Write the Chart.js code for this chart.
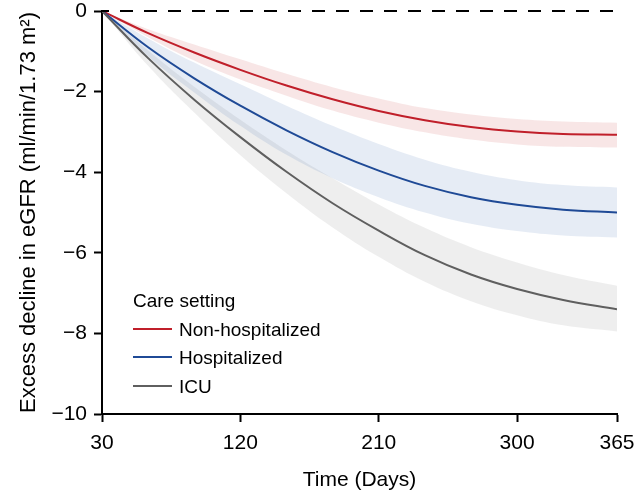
<!DOCTYPE html>
<html>
<head>
<meta charset="utf-8">
<script src="https://cdn.jsdelivr.net/npm/chart.js@4.4.1/dist/chart.umd.min.js"></script>
<style>
  html, body { margin: 0; padding: 0; background: #ffffff; }
  #wrap { width: 637px; height: 500px; position: relative; }
</style>
</head>
<body>
<div id="wrap"><canvas id="c" width="637" height="500"></canvas></div>
<script>
// ---- Data ----
const days = [30, 60, 90, 120, 150, 180, 210, 240, 270, 300, 330, 365];

const nonHospMean = [0, -0.55, -1.03, -1.46, -1.85, -2.19, -2.48, -2.71, -2.88, -2.99, -3.05, -3.07];
const nonHospUpper = [0, -0.45, -0.83, -1.20, -1.56, -1.89, -2.17, -2.41, -2.57, -2.68, -2.74, -2.77];
const nonHospLower = [0, -0.65, -1.23, -1.70, -2.10, -2.47, -2.77, -3.01, -3.19, -3.31, -3.37, -3.39];

const hospMean = [0, -0.90, -1.67, -2.35, -2.96, -3.50, -3.96, -4.34, -4.62, -4.81, -4.93, -5.00];
const hospUpper = [0, -0.68, -1.28, -1.82, -2.35, -2.85, -3.30, -3.69, -3.99, -4.20, -4.32, -4.38];
const hospLower = [0, -1.12, -2.02, -2.85, -3.57, -4.15, -4.62, -5.00, -5.28, -5.46, -5.57, -5.62];

const icuMean = [0, -1.17, -2.20, -3.13, -3.99, -4.77, -5.45, -6.06, -6.54, -6.90, -7.17, -7.40];
const icuUpper = [0, -0.98, -1.88, -2.70, -3.46, -4.15, -4.80, -5.38, -5.86, -6.24, -6.55, -6.82];
const icuLower = [0, -1.36, -2.52, -3.58, -4.52, -5.37, -6.10, -6.72, -7.20, -7.55, -7.80, -7.95];

const referenceDays = [30, 365];
const referenceValues = [0, 0];

const seriesNames = ['Non-hospitalized', 'Hospitalized', 'ICU'];
const legendTitle = 'Care setting';
const xTickValues = [30, 120, 210, 300, 365];
const yTickValues = [0, -2, -4, -6, -8, -10];
const xTitle = 'Time (Days)';
const yTitle = 'Excess decline in eGFR (ml/min/1.73 m\u00B2)';

// ---- Styles ----
const lineColors = ['#c01f2a', '#1f4a96', '#5f5f5f'];
const bandColors = ['rgba(200,60,60,0.13)', 'rgba(30,80,160,0.11)', 'rgba(90,90,90,0.10)'];
const FONT = "'Liberation Sans', Arial, Helvetica, sans-serif";

const pts = (xs, ys) => xs.map((x, i) => ({ x: x, y: ys[i] }));

const means = [nonHospMean, hospMean, icuMean];
const uppers = [nonHospUpper, hospUpper, icuUpper];
const lowers = [nonHospLower, hospLower, icuLower];

const datasets = [];
for (let i = 0; i < 3; i++) {
  datasets.push({
    label: seriesNames[i] + ' upper',
    data: pts(days, uppers[i]),
    borderWidth: 0, pointRadius: 0,
    backgroundColor: bandColors[i],
    fill: datasets.length + 1,
    tension: 0.4,
    order: 10
  });
  datasets.push({
    label: seriesNames[i] + ' lower',
    data: pts(days, lowers[i]),
    borderWidth: 0, pointRadius: 0,
    backgroundColor: 'rgba(0,0,0,0)',
    fill: false,
    tension: 0.4,
    order: 10
  });
}
for (let i = 0; i < 3; i++) {
  datasets.push({
    label: seriesNames[i],
    isLegend: true,
    data: pts(days, means[i]),
    borderColor: lineColors[i],
    borderWidth: 2,
    pointRadius: 0,
    fill: false,
    tension: 0.4,
    order: 3 - i
  });
}
datasets.push({
  label: 'reference',
  data: pts(referenceDays, referenceValues),
  borderColor: '#000',
  borderWidth: 2,
  borderDash: [13, 11],
  borderDashOffset: 6,
  pointRadius: 0,
  fill: false,
  clip: false,
  order: 0
});

const legendPlugin = {
  id: 'insideLegend',
  afterDatasetsDraw(chart) {
    const ctx = chart.ctx;
    ctx.save();
    ctx.font = '19px ' + FONT;
    ctx.fillStyle = '#000';
    ctx.textAlign = 'left';
    ctx.textBaseline = 'alphabetic';
    ctx.fillText(legendTitle, 133, 307);
    const items = chart.data.datasets.filter(d => d.isLegend);
    const rowY = [329, 357, 386];
    items.forEach((d, i) => {
      ctx.strokeStyle = d.borderColor;
      ctx.lineWidth = 2;
      ctx.beginPath();
      ctx.moveTo(133, rowY[i]);
      ctx.lineTo(172, rowY[i]);
      ctx.stroke();
      ctx.fillText(d.label, 179, rowY[i] + 7);
    });
    ctx.restore();
  }
};

const fmt = v => (v < 0 ? '\u2212' + Math.abs(v) : String(v));

new Chart(document.getElementById('c'), {
  type: 'line',
  data: { datasets: datasets },
  plugins: [legendPlugin],
  options: {
    responsive: false,
    animation: false,
    devicePixelRatio: 1,
    layout: { padding: { top: 11, right: 20, left: 0, bottom: 0 } },
    plugins: {
      legend: { display: false },
      tooltip: { enabled: false },
      filler: { propagate: false }
    },
    scales: {
      x: {
        type: 'linear',
        min: 30, max: 365,
        afterFit: s => { s.height = 86; s.paddingLeft = 0; s.paddingRight = 0; },
        afterBuildTicks: s => { s.ticks = xTickValues.map(v => ({ value: v })); },
        grid: { display: true, drawOnChartArea: false, drawTicks: true, tickLength: 8, tickColor: '#000', tickWidth: 2 },
        border: { display: true, color: '#000', width: 2 },
        ticks: { color: '#000', font: { family: FONT, size: 21 }, padding: 9, maxRotation: 0, autoSkip: false },
        title: { display: true, text: xTitle, color: '#000', font: { family: FONT, size: 21 }, padding: { top: 0, bottom: 7 } }
      },
      y: {
        type: 'linear',
        min: -10, max: 0,
        afterFit: s => { s.width = 102; s.paddingTop = 0; s.paddingBottom = 0; },
        afterBuildTicks: s => { s.ticks = yTickValues.map(v => ({ value: v })); },
        grid: { display: true, drawOnChartArea: false, drawTicks: true, tickLength: 8, tickColor: '#000', tickWidth: 2 },
        border: { display: true, color: '#000', width: 2 },
        ticks: { color: '#000', font: { family: FONT, size: 21 }, padding: 7, callback: v => fmt(v) },
        title: { display: true, text: yTitle, color: '#000', font: { family: FONT, size: 22 }, padding: { top: 16, bottom: 0 } }
      }
    }
  }
});
</script>
</body>
</html>
